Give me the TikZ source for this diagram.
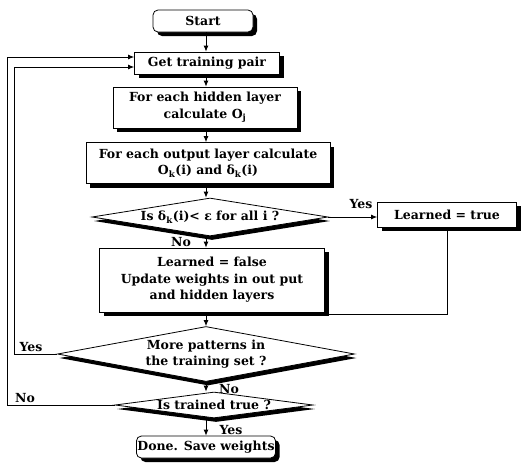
\documentclass[tikz,border=0pt]{standalone}
\usepackage{fontspec}
\setmainfont{DejaVu Serif}
\usetikzlibrary{shapes.geometric,shadows,arrows.meta,calc}
\begin{document}
\begin{tikzpicture}[x=1pt,y=-1pt,
  every node/.style={font=\bfseries\fontsize{12.5}{16.5}\selectfont},
  shade/.style={drop shadow={shadow xshift=4pt,shadow yshift=-4pt,fill=black,opacity=1}},
  box/.style={draw,line width=0.8pt,fill=white,shade,align=center,inner sep=1pt},
  rbox/.style={box,rounded corners=5pt},
  dia/.style={draw,line width=0.8pt,fill=white,shape=diamond,align=center,inner sep=0pt,
    drop shadow={shadow xshift=2pt,shadow yshift=-4pt,fill=black,opacity=1}},
  lbl/.style={inner sep=0pt},
  line/.style={line width=0.8pt},
  arr/.style={line width=0.8pt,-{Latex[length=6pt,width=5pt]}}
]
\useasboundingbox (0,0) rectangle (529,471);
\coordinate (col) at (206,0);
\coordinate (lo) at (7,0);
\coordinate (li) at (14,0);

\node[rbox,minimum width=100,minimum height=22] (start) at (203,21) {Start};
\node[box,minimum width=145,minimum height=22] (get) at (207,63) {Get training pair};
\node[box,minimum width=184,minimum height=41] (hid) at (205,107.5) {For each hidden layer\\calculate O\textsubscript{j}};
\node[box,minimum width=244,minimum height=41] (out) at (208,163) {For each output layer calculate\\O\textsubscript{k}(i) and δ\textsubscript{k}(i)};
\node[dia,aspect=6,minimum width=236,minimum height=38] (d1) at (210,217) {Is δ\textsubscript{k}(i)< ε for all i ?};
\node[box,minimum width=139,minimum height=25] (lt) at (447,214.5) {Learned = true};
\node[box,minimum width=225,minimum height=64] (lf) at (212,280) {Learned = false\\Update weights in out put\\and hidden layers};
\node[dia,aspect=5,minimum width=297,minimum height=55] (d2) at (206,354) {More patterns in\\the training set ?};
\node[dia,aspect=7,minimum width=198,minimum height=26] (d3) at (214,405) {Is trained true ?};
\node[rbox,minimum width=138,minimum height=22] (done) at (206,447) {Done. Save weights};

\node[lbl] (y1) at (361,204) {Yes};
\node[lbl] (n1) at (181,242) {No};
\node[lbl] (y2) at (31,347) {Yes};
\node[lbl] (n2) at (229,389) {No};
\node[lbl] (n3) at (25,398) {No};
\node[lbl] (y3) at (231,430) {Yes};

\draw[arr] (start.south -| col) -- (get.north -| col);
\draw[arr] (get.south -| col) -- (hid.north -| col);
\draw[arr] (hid.south -| col) -- (out.north -| col);
\draw[arr] (out.south -| col) -- (d1.north -| col);
\draw[arr] (d1.east) -- (lt.west |- d1.east);
\draw[arr] (d1.south -| col) -- (lf.north -| col);
\draw[arr] (lf.south -| col) -- (d2.north -| col);
\draw[arr] (d2.south -| col) -- (d3.north -| col);
\draw[arr] (d3.south -| col) -- (done.north -| col);
\draw[line] (lt.south) |- ([yshift=-2pt]lf.south east);
\draw[arr] (d2.west) -- (d2.west -| li) |- ([yshift=-4pt]get.west);
\draw[arr] (d3.west) -- (d3.west -| lo) |- ([yshift=6pt]get.west);
\end{tikzpicture}
\end{document}
